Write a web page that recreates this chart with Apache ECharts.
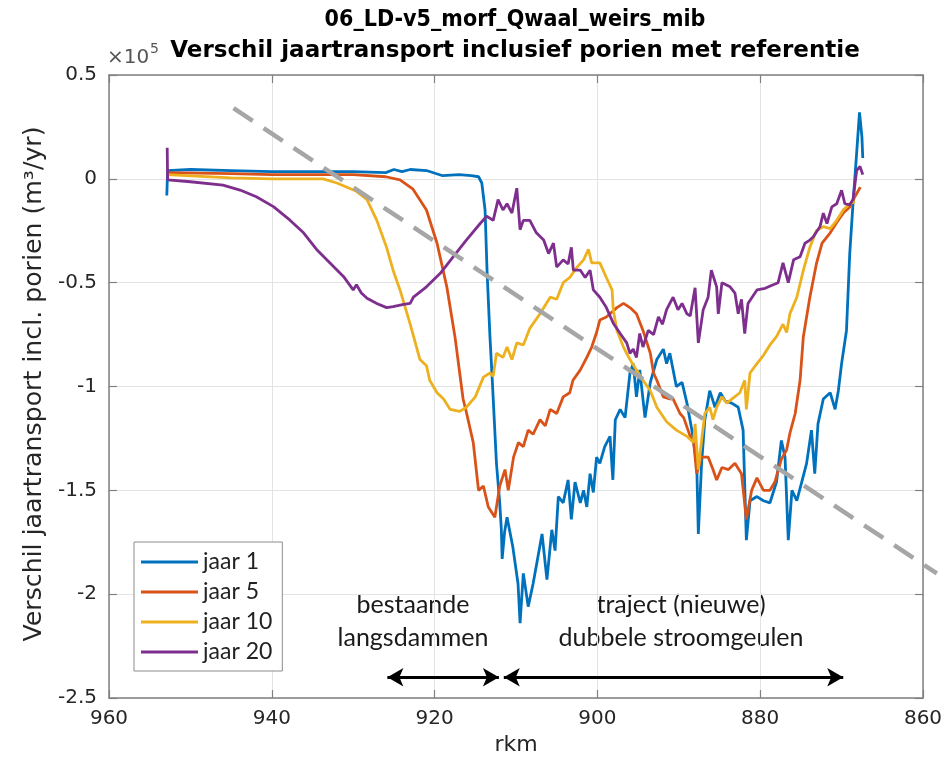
<!DOCTYPE html>
<html>
<head>
<meta charset="utf-8">
<script src="https://cdn.jsdelivr.net/npm/echarts@6/dist/echarts.min.js"></script>
<style>
html,body{margin:0;padding:0;background:#fff;}
#chart{width:951px;height:776px;}
</style>
</head>
<body>
<div id="chart"></div>
<script>
// ---- data (transport in units of 1e5 m3/yr) ----
const rkm1 = [952.9, 952.8, 950, 945, 940, 935, 930, 926, 925, 924,
  923, 921, 919, 917, 915.5, 914.6, 914.2, 913.8, 913.56, 913.2,
  912.9, 912.4, 912.0, 911.8, 911.7, 911.4, 911.1, 910.4, 909.75, 909.5,
  909.1, 908.5, 907.9, 906.8, 906.2, 905.6, 905.2, 904.8, 904.2, 903.6,
  903.2, 902.75, 902.1, 901.7, 901.3, 900.9, 900.5, 900.1, 899.7, 899.1,
  898.45, 898.1, 897.8, 897.2, 896.6, 896.0, 895.6, 895.2, 894.8, 894.15,
  893.5, 892.7, 891.9, 891.5, 891.1, 890.3, 889.6, 889.0, 888.4, 887.8,
  887.6, 887.2, 886.8, 886.2, 885.55, 884.9, 884.3, 883.5, 882.7, 882.1,
  881.7, 881.25, 880.4, 879.6, 878.8, 878.0, 877.4, 876.95, 876.55, 876.1,
  875.5, 874.9, 874.3, 873.7, 873.3, 872.9, 872.25, 871.4, 870.8, 870.4,
  870.0, 869.4, 869.0, 868.6, 868.15, 867.8, 867.5, 867.4];
const jaar1 = [-0.08, 0.04, 0.045, 0.04, 0.035, 0.035, 0.035, 0.03, 0.045, 0.035,
  0.045, 0.04, 0.015, 0.02, 0.015, 0.01, -0.02, -0.15, -0.44, -0.76,
  -0.98, -1.37, -1.56, -1.69, -1.83, -1.70, -1.63, -1.77, -1.95, -2.14,
  -1.90, -2.06, -1.95, -1.71, -1.93, -1.69, -1.79, -1.53, -1.56, -1.45,
  -1.64, -1.46, -1.56, -1.50, -1.58, -1.42, -1.51, -1.34, -1.37, -1.29,
  -1.24, -1.45, -1.16, -1.11, -1.15, -0.935, -0.89, -1.05, -0.92, -1.15,
  -0.98, -0.87, -0.82, -0.89, -0.84, -1.00, -0.98, -1.08, -1.21, -1.37,
  -1.71, -1.37, -1.16, -1.02, -1.10, -1.03, -1.07, -1.08, -1.10, -1.21,
  -1.74, -1.55, -1.53, -1.55, -1.56, -1.46, -1.26, -1.34, -1.74, -1.50,
  -1.55, -1.46, -1.37, -1.21, -1.42, -1.18, -1.06, -1.03, -1.11, -1.02,
  -0.89, -0.73, -0.36, -0.12, 0.125, 0.32, 0.20, 0.10];

const rkm5 = [952.9, 945, 940, 935, 930, 926, 924.25, 922.65, 921, 919.7,
  918.5, 917.5, 916.5, 916.06, 915.25, 914.6, 914.0, 913.4, 912.6, 912.0,
  911.35, 910.95, 910.3, 909.7, 909.1, 908.5, 907.9, 907.05, 906.4, 905.8,
  905.0, 904.2, 903.4, 903.0, 902.1, 901.3, 900.7, 900.1, 899.7, 898.9,
  897.6, 896.8, 896.0, 895.2, 894.4, 893.5, 893.1, 892.7, 891.9, 891.1,
  890.7, 889.85, 889.4, 888.6, 888.2, 887.8, 887.2, 886.4, 885.8, 885.35,
  884.7, 883.9, 883.1, 882.3, 881.7, 881.05, 880.4, 879.6, 878.8, 878.2,
  877.4, 876.75, 876.35, 875.7, 875.1, 874.7, 873.9, 873.1, 872.4, 871.4,
  870.6, 869.8, 869.0, 868.35, 867.7];
const jaar5 = [0.03, 0.025, 0.02, 0.02, 0.02, 0.01, -0.005, -0.05, -0.15, -0.31,
  -0.52, -0.76, -1.06, -1.13, -1.27, -1.50, -1.48, -1.58, -1.63, -1.48,
  -1.40, -1.50, -1.34, -1.27, -1.29, -1.21, -1.23, -1.16, -1.19, -1.11,
  -1.13, -1.05, -1.03, -0.97, -0.92, -0.86, -0.81, -0.74, -0.68, -0.665,
  -0.62, -0.60, -0.62, -0.65, -0.73, -0.84, -0.935, -0.97, -1.05, -1.06,
  -1.06, -1.13, -1.15, -1.24, -1.26, -1.42, -1.34, -1.34, -1.40, -1.45,
  -1.39, -1.40, -1.37, -1.42, -1.64, -1.50, -1.44, -1.50, -1.50, -1.46,
  -1.35, -1.305, -1.225, -1.13, -0.97, -0.76, -0.57, -0.41, -0.31, -0.26,
  -0.21, -0.165, -0.135, -0.085, -0.04];

const rkm10 = [952.9, 945, 940, 935, 933.7, 932.0, 929.6, 928.3, 927.1, 925.9,
  925.1, 924.25, 923.0, 921.8, 921.0, 920.6, 919.7, 918.9, 918.1, 916.9,
  916.1, 915.0, 914.0, 913.2, 912.8, 912.4, 911.6, 911.1, 910.5, 909.9,
  909.1, 908.3, 907.05, 905.8, 905.0, 904.2, 903.4, 902.5, 901.7, 901.1,
  900.7, 899.7, 898.9, 898.2, 898.05, 897.6, 896.8, 896.0, 895.2, 894.4,
  893.5, 892.7, 891.5, 890.3, 889.0, 888.2, 888.0, 887.6, 887.2, 886.8,
  886.2, 885.8, 885.35, 884.7, 884.1, 883.3, 882.5, 881.9, 881.7, 881.25,
  880.4, 879.6, 878.8, 878.0, 877.2, 876.75, 876.35, 875.5, 874.7, 873.9,
  873.1, 872.25, 871.4, 870.6, 869.8, 869.0, 868.35];
const jaar10 = [0.02, 0.005, 0.0, 0.0, 0.0, -0.02, -0.06, -0.10, -0.20, -0.33,
  -0.44, -0.535, -0.70, -0.87, -0.90, -0.97, -1.03, -1.06, -1.11, -1.12,
  -1.10, -1.05, -0.955, -0.935, -0.95, -0.84, -0.86, -0.81, -0.87, -0.79,
  -0.80, -0.72, -0.65, -0.57, -0.58, -0.50, -0.475, -0.425, -0.39, -0.34,
  -0.405, -0.405, -0.475, -0.535, -0.63, -0.73, -0.81, -0.87, -0.92, -0.97,
  -1.02, -1.10, -1.17, -1.21, -1.24, -1.27, -1.18, -1.40, -1.26, -1.13,
  -1.10, -1.16, -1.10, -1.05, -1.08, -1.055, -1.03, -0.97, -1.11, -0.935,
  -0.89, -0.85, -0.80, -0.76, -0.70, -0.74, -0.65, -0.57, -0.44, -0.33,
  -0.25, -0.23, -0.24, -0.20, -0.15, -0.12, -0.11];

const rkm20 = [952.85, 952.8, 950.0, 946.0, 943.9, 941.9, 939.8, 937.8, 936.1, 934.5,
  932.85, 931.2, 930.0, 929.6, 929.0, 928.3, 927.1, 925.9, 925.1, 923.8,
  923.0, 922.6, 921.0, 919.3, 917.7, 916.1, 914.4, 913.6, 912.8, 912.2,
  911.6, 911.1, 910.5, 909.9, 909.5, 909.1, 908.3, 907.5, 906.6, 906.0,
  905.4, 905.0, 904.2, 903.6, 903.2, 902.96, 902.1, 901.5, 900.9, 900.5,
  899.7, 898.9, 898.05, 897.2, 896.4, 896.0, 895.6, 895.2, 894.8, 894.4,
  893.75, 893.1, 892.5, 892.0, 891.5, 890.7, 890.1, 889.6, 889.0, 888.6,
  888.0, 887.6, 887.0, 886.4, 886.0, 885.35, 885.15, 884.7, 883.7, 883.1,
  882.7, 882.3, 881.9, 881.5, 880.4, 879.4, 878.4, 877.8, 877.2, 876.55,
  875.9, 875.1, 874.5, 873.9, 873.5, 872.65, 872.25, 871.8, 871.2, 870.6,
  870.0, 869.6, 869.0, 868.6, 868.15, 867.74, 867.4];
const jaar20 = [0.15, -0.005, -0.014, -0.03, -0.054, -0.086, -0.134, -0.198, -0.26, -0.34,
  -0.405, -0.47, -0.535, -0.51, -0.55, -0.575, -0.60, -0.62, -0.615, -0.605,
  -0.60, -0.57, -0.52, -0.455, -0.375, -0.295, -0.215, -0.18, -0.20, -0.10,
  -0.15, -0.12, -0.165, -0.045, -0.245, -0.20, -0.20, -0.26, -0.295, -0.36,
  -0.31, -0.425, -0.39, -0.41, -0.33, -0.44, -0.44, -0.475, -0.44, -0.535,
  -0.57, -0.62, -0.695, -0.745, -0.79, -0.84, -0.82, -0.86, -0.745, -0.81,
  -0.73, -0.75, -0.665, -0.70, -0.63, -0.57, -0.63, -0.60, -0.65, -0.66,
  -0.525, -0.79, -0.63, -0.57, -0.44, -0.52, -0.65, -0.50, -0.52, -0.55,
  -0.65, -0.58, -0.745, -0.60, -0.535, -0.527, -0.51, -0.50, -0.405, -0.50,
  -0.39, -0.375, -0.31, -0.295, -0.28, -0.23, -0.165, -0.215, -0.135, -0.12,
  -0.055, -0.12, -0.125, -0.10, 0.04, 0.06, 0.02];

// dashed trend annotation (runs past the right axis edge in the original)
const trendRkm = [944.7, 858.3];
const trendVal = [0.34, -1.90];
// arrows (rkm extents) and their level
const arrowBestaand = [925.8, 912.1];
const arrowTraject = [911.5, 869.8];
const arrowLevel = -2.40;

const seriesNames = ['jaar 1', 'jaar 5', 'jaar 10', 'jaar 20'];
const xTicks = [960, 940, 920, 900, 880, 860];
const yTicks = [0.5, 0, -0.5, -1, -1.5, -2, -2.5];

const colors = ['#0072BD', '#D95319', '#EDB120', '#7E2F8E'];
const pairs = (xs, ys) => xs.map((x, i) => [x, ys[i]]);

const AX = '#808080';
const FONT = '"DejaVu Sans", sans-serif';
const CAL = 'Lato, "Noto Sans", sans-serif';

const chart = echarts.init(document.getElementById('chart'), null, {renderer: 'canvas'});

const baseX = {type: 'value', min: 860, max: 960, interval: 20, inverse: true};
const baseY = {type: 'value', min: -2.5, max: 0.5, interval: 0.5};

const lineSeries = [[rkm1, jaar1], [rkm5, jaar5], [rkm10, jaar10], [rkm20, jaar20]].map((d, i) => ({
  name: seriesNames[i],
  type: 'line',
  data: pairs(d[0], d[1]),
  showSymbol: false,
  symbol: 'none',
  lineStyle: {color: colors[i], width: 2.8},
  itemStyle: {color: colors[i]},
  z: 3 + i,
  animation: false
}));

const tickStyle = {show: true, inside: true, length: 8, lineStyle: {color: AX, width: 1.2}};
const lineAx = {show: true, onZero: false, lineStyle: {color: AX, width: 1.5}};

const graphics = [
  {type: 'text', x: 515, y: 20, scaleX: 0.9, style: {text: '06_LD-v5_morf_Qwaal_weirs_mib', font: 'bold 23px ' + FONT, fill: '#000', textAlign: 'center', textVerticalAlign: 'middle'}},
  {type: 'text', x: 515, y: 51, style: {text: 'Verschil jaartransport inclusief porien met referentie', font: 'bold 23px ' + FONT, fill: '#000', textAlign: 'center', textVerticalAlign: 'middle'}},
  {type: 'text', x: 107, y: 58, style: {text: '×10', font: '20px ' + FONT, fill: '#555', textAlign: 'left', textVerticalAlign: 'middle'}},
  {type: 'text', x: 150, y: 49, style: {text: '5', font: '14px ' + FONT, fill: '#555', textAlign: 'left', textVerticalAlign: 'middle'}},
  {type: 'text', x: 35, y: 384, rotation: Math.PI / 2, scaleX: 1.05, style: {text: 'Verschil jaartransport incl. porien (m³/yr)', font: '24px ' + FONT, fill: '#262626', textAlign: 'center', textVerticalAlign: 'middle'}},
  {type: 'text', x: 516, y: 745, style: {text: 'rkm', font: '22px ' + FONT, fill: '#262626', textAlign: 'center', textVerticalAlign: 'middle'}},
  {type: 'text', x: 413, y: 621, style: {text: 'bestaande\nlangsdammen', font: '25px ' + CAL, fill: '#1a1a1a', textAlign: 'center', textVerticalAlign: 'middle', lineHeight: 33}},
  {type: 'text', x: 681, y: 621, style: {text: 'traject (nieuwe)\ndubbele stroomgeulen', font: '25px ' + CAL, fill: '#1a1a1a', textAlign: 'center', textVerticalAlign: 'middle', lineHeight: 33}}
];

const option = {
  animation: false,
  backgroundColor: '#fff',
  grid: {left: 109, right: 28, top: 75, bottom: 78, containLabel: false},
  xAxis: [
    Object.assign({}, baseX, {
      position: 'bottom', axisLine: lineAx, axisTick: tickStyle,
      axisLabel: {show: true, color: '#262626', fontSize: 20, fontFamily: FONT, margin: 11,
        formatter: v => xTicks.includes(v) ? String(v) : ''},
      splitLine: {show: true, lineStyle: {color: '#e3e3e3', width: 1}}
    }),
    Object.assign({}, baseX, {
      position: 'top', axisLine: lineAx, axisTick: tickStyle,
      axisLabel: {show: false}, splitLine: {show: false}
    })
  ],
  yAxis: [
    Object.assign({}, baseY, {
      position: 'left', axisLine: lineAx, axisTick: tickStyle,
      axisLabel: {show: true, color: '#262626', fontSize: 20, fontFamily: FONT, margin: 12,
        formatter: v => yTicks.includes(v) ? String(v) : ''},
      splitLine: {show: true, lineStyle: {color: '#e3e3e3', width: 1}}
    }),
    Object.assign({}, baseY, {
      position: 'right', axisLine: lineAx, axisTick: tickStyle,
      axisLabel: {show: false}, splitLine: {show: false}
    })
  ],
  legend: {
    orient: 'vertical',
    left: 134, top: 542,
    data: seriesNames,
    icon: 'rect',
    itemWidth: 57, itemHeight: 3,
    itemGap: 6,
    padding: [8, 10, 7, 7],
    backgroundColor: '#fff',
    borderColor: '#8c8c8c', borderWidth: 1, borderRadius: 0,
    textStyle: {fontSize: 23, fontFamily: CAL, color: '#222', lineHeight: 24},
    selectedMode: false
  },
  series: lineSeries.concat([
    {
      name: 'arrows',
      type: 'line',
      data: [],
      silent: true,
      markLine: {
        silent: true,
        animation: false,
        symbol: ['arrow', 'arrow'],
        symbolSize: [14, 16],
        label: {show: false},
        lineStyle: {color: '#000', width: 3, type: 'solid'},
        data: [
          [{coord: [arrowBestaand[0], arrowLevel]}, {coord: [arrowBestaand[1], arrowLevel]}],
          [{coord: [arrowTraject[0], arrowLevel]}, {coord: [arrowTraject[1], arrowLevel]}]
        ]
      }
    }
  ]),
  graphic: {elements: graphics}
};
chart.setOption(option);

// trend line: positioned through the chart's own axis scales, drawn unclipped
const p0 = chart.convertToPixel({xAxisIndex: 0, yAxisIndex: 0}, [trendRkm[0], trendVal[0]]);
const p1 = chart.convertToPixel({xAxisIndex: 0, yAxisIndex: 0}, [trendRkm[1], trendVal[1]]);
graphics.push({
  type: 'line', z: 100, silent: true,
  shape: {x1: p0[0], y1: p0[1], x2: p1[0], y2: p1[1]},
  style: {stroke: '#a6a6a6', lineWidth: 4.5, lineDash: [23, 13]}
});
chart.setOption({graphic: {elements: graphics}});
</script>
</body>
</html>
